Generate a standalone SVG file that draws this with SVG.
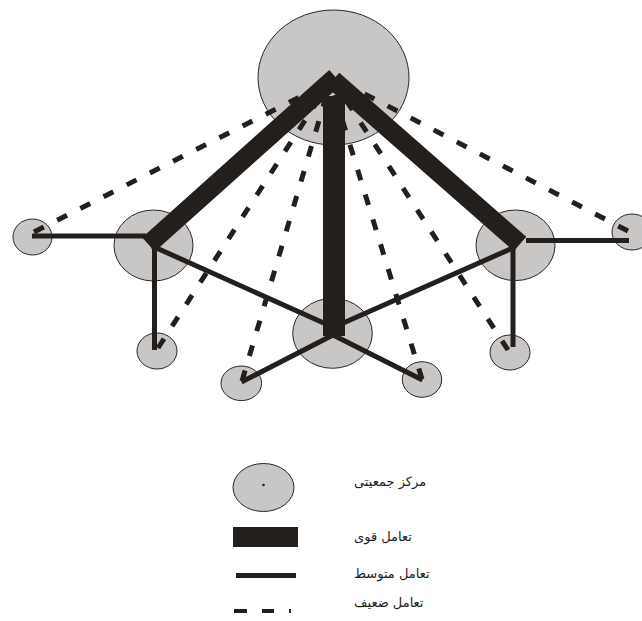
<svg xmlns="http://www.w3.org/2000/svg" width="642" height="621" viewBox="0 0 642 621">
<defs>
<style>
.node{fill:#c9c6c6;stroke:#2a2624;stroke-width:1}
.strong{stroke:#221f1c;stroke-width:19;fill:none;stroke-linecap:butt}
.medium{stroke:#221f1c;stroke-width:5;fill:none;stroke-linecap:butt}
.weak{stroke:#221f1c;stroke-width:5;fill:none;stroke-dasharray:11 15;stroke-linecap:butt}
.ink{fill:#221f1c}
.label{font-family:"DejaVu Sans","Noto Sans",sans-serif;font-size:13px;fill:#221f1c}
</style>
</defs>
<rect width="642" height="621" fill="#ffffff"/>
<g id="nodes">
<g id="n-top"><ellipse class="node" cx="333.5" cy="77.5" rx="75.5" ry="67.5"/></g>
<g id="n-left"><ellipse class="node" cx="153.5" cy="245.5" rx="39.5" ry="35.5"/></g>
<g id="n-right"><ellipse class="node" cx="515.5" cy="245.3" rx="39.5" ry="35.3"/></g>
<g id="n-center"><ellipse class="node" cx="332.5" cy="333.3" rx="39.8" ry="35"/></g>
<g id="n-farleft"><ellipse class="node" cx="32.5" cy="237" rx="19.5" ry="18"/></g>
<g id="n-farright"><ellipse class="node" cx="632" cy="232" rx="20" ry="18"/></g>
<g id="n-lowleft"><ellipse class="node" cx="157" cy="351" rx="20" ry="18"/></g>
<g id="n-lowright"><ellipse class="node" cx="510" cy="352.5" rx="20" ry="17.5"/></g>
<g id="n-botleft"><ellipse class="node" cx="241.3" cy="383.3" rx="20.3" ry="17.3"/></g>
<g id="n-botright"><ellipse class="node" cx="422" cy="379.5" rx="19.7" ry="17.8"/></g>
</g>
<g id="connectors">
<line class="weak" x1="34" y1="232" x2="333" y2="80"/>
<line class="weak" x1="158" y1="348" x2="331" y2="80"/>
<line class="weak" x1="242" y1="381" x2="331" y2="80"/>
<line class="weak" x1="628" y1="231" x2="336" y2="79"/>
<line class="weak" x1="508" y1="350" x2="333" y2="80"/>
<line class="weak" x1="422" y1="379" x2="330" y2="80"/>
<line class="medium" x1="146" y1="236" x2="32" y2="236"/>
<line class="medium" x1="154.5" y1="246" x2="154.5" y2="350"/>
<line class="medium" x1="152" y1="246" x2="326" y2="324"/>
<line class="medium" x1="526" y1="240.5" x2="629" y2="240.5"/>
<line class="medium" x1="513" y1="246" x2="513" y2="347"/>
<line class="medium" x1="515" y1="247" x2="341" y2="324"/>
<line class="medium" x1="333" y1="335" x2="241.5" y2="382"/>
<line class="medium" x1="333" y1="335" x2="422.5" y2="380"/>
<line class="strong" x1="148.5" y1="244.5" x2="335.6" y2="77.1"/>
<line class="strong" x1="520" y1="244" x2="333" y2="79.8"/>
<rect class="ink" x="323" y="96" width="22" height="240"/>
</g>
<g id="legend">
<g id="legend-node">
<ellipse class="node" cx="263.5" cy="487.5" rx="30.5" ry="24"/>
<circle class="ink" cx="263.5" cy="485" r="1.3"/>
<text class="label" x="354" y="486">مرکز جمعیتی</text>
</g>
<g id="legend-strong">
<rect class="ink" x="233" y="527" width="65" height="20"/>
<text class="label" x="354" y="541">تعامل قوی</text>
</g>
<g id="legend-medium">
<rect class="ink" x="236" y="573" width="60" height="5"/>
<text class="label" x="354" y="578">تعامل متوسط</text>
</g>
<g id="legend-weak">
<rect class="ink" x="234" y="609" width="13" height="4"/>
<rect class="ink" x="262" y="609" width="12" height="4"/>
<rect class="ink" x="289" y="609" width="2" height="4"/>
<text class="label" x="354" y="607">تعامل ضعیف</text>
</g>
</g>
</svg>
